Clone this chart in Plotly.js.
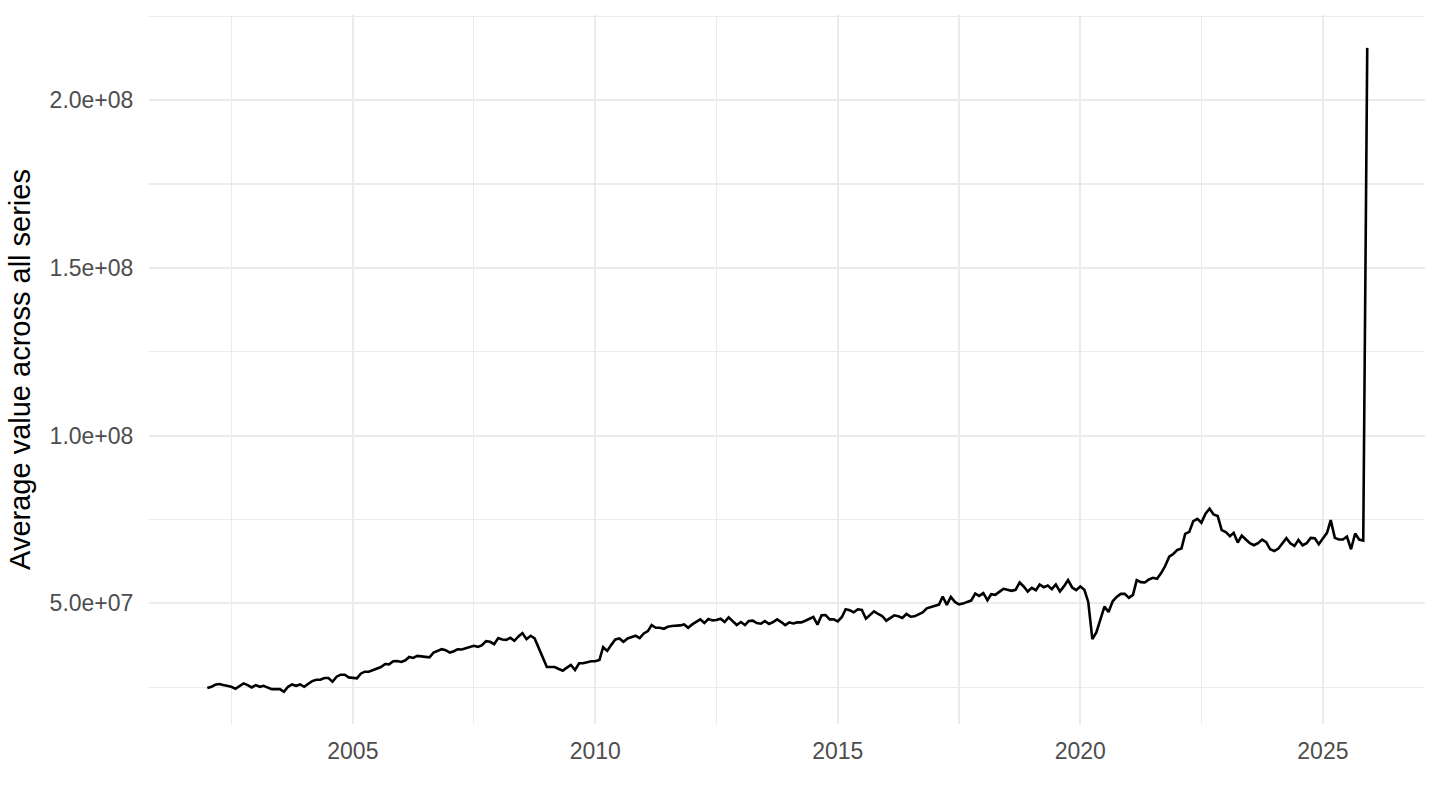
<!DOCTYPE html>
<html>
<head>
<meta charset="utf-8">
<script src="https://cdn.plot.ly/plotly-3.0.1.min.js"></script>
<style>
  html, body { margin: 0; padding: 0; background: #ffffff; }
  #chart { width: 1440px; height: 810px; }
</style>
</head>
<body>
<div id="chart"></div>
<script>
// Monthly series, starting January 2002 (values in millions)
const startYear = 2002;
const valuesMillions = [
  // 2002
  24.7, 25.1, 25.7, 25.9, 25.6, 25.4, 25.1, 24.5, 25.4, 26.1, 25.6, 24.9,
  // 2003
  25.6, 25.1, 25.4, 24.8, 24.4, 24.4, 24.4, 23.6, 25.1, 25.8, 25.4, 25.8,
  // 2004
  25.1, 26.0, 26.8, 27.2, 27.2, 27.7, 27.7, 26.6, 28.1, 28.7, 28.7, 27.9,
  // 2005
  27.7, 27.6, 29.0, 29.6, 29.6, 30.1, 30.6, 31.0, 31.9, 31.8, 32.7, 32.8,
  // 2006
  32.5, 33.0, 34.0, 33.7, 34.3, 34.2, 33.9, 33.9, 35.3, 35.9, 36.3, 36.0,
  // 2007
  35.3, 35.7, 36.3, 36.2, 36.5, 37.0, 37.3, 37.0, 37.5, 38.7, 38.5, 37.8,
  // 2008
  39.6, 39.2, 39.1, 39.7, 38.8, 40.1, 41.1, 39.3, 40.3, 39.5, 36.8, 34.1,
  // 2009
  31.0, 31.0, 31.0, 30.4, 29.9, 30.8, 31.6, 30.1, 32.1, 32.1, 32.4, 32.7,
  // 2010
  32.7, 33.1, 36.9, 35.8, 37.6, 39.2, 39.5, 38.5, 39.5, 40.0, 40.3, 39.6,
  // 2011
  41.0, 41.7, 43.5, 42.7, 42.7, 42.4, 43.0, 43.2, 43.2, 43.4, 43.7, 42.7,
  // 2012
  43.7, 44.6, 45.2, 44.1, 45.3, 44.9, 45.0, 45.4, 44.4, 45.8, 44.7, 43.5,
  // 2013
  44.4, 43.5, 44.7, 44.8, 44.1, 43.9, 44.7, 43.8, 44.4, 45.2, 44.4, 43.5,
  // 2014
  44.3, 44.0, 44.3, 44.3, 44.8, 45.4, 45.9, 43.6, 46.4, 46.5, 45.2, 45.2,
  // 2015
  44.6, 45.9, 48.2, 47.9, 47.3, 48.2, 48.0, 45.4, 46.6, 47.6, 46.8, 46.2,
  // 2016
  44.8, 45.6, 46.4, 46.1, 45.6, 46.8, 46.0, 46.1, 46.8, 47.3, 48.5, 48.8,
  // 2017
  49.2, 49.6, 52.0, 49.5, 51.9, 50.4, 49.7, 49.9, 50.4, 50.8, 52.9, 52.2,
  // 2018
  53.0, 50.9, 52.7, 52.5, 53.4, 54.3, 54.0, 53.7, 54.0, 56.2, 55.0, 53.5,
  // 2019
  54.6, 53.9, 55.6, 54.8, 55.3, 54.2, 55.6, 53.5, 55.1, 56.9, 54.7, 53.9,
  // 2020
  55.0, 54.0, 50.4, 39.3, 41.3, 45.2, 49.0, 47.4, 50.6, 51.9, 52.8, 52.8,
  // 2021
  51.6, 52.5, 56.9, 56.3, 56.2, 57.1, 57.6, 57.3, 59.0, 61.1, 63.9, 64.7,
  // 2022
  65.9, 66.3, 70.7, 71.3, 74.5, 75.2, 74.0, 76.7, 78.2, 76.5, 76.0, 71.8,
  // 2023
  71.2, 70.0, 71.0, 68.1, 70.2, 69.0, 67.9, 67.3, 67.9, 69.0, 68.2, 66.1,
  // 2024
  65.6, 66.3, 67.7, 69.4, 67.9, 67.1, 68.9, 67.3, 67.9, 69.5, 69.4, 67.6,
  // 2025
  69.3, 71.0, 74.8, 69.5, 69.0, 69.0, 69.9, 66.1, 70.8, 69.0, 68.7, 215.6
];

const xTickLabels = ['2005', '2010', '2015', '2020', '2025'];
const xMinorTicks = ['2002-07-02', '2007-07-02', '2012-07-02', '2017-07-02', '2022-07-02'];
const yTickValues = [5e7, 1e8, 1.5e8, 2e8];
const yTickLabels = ['5.0e+07', '1.0e+08', '1.5e+08', '2.0e+08'];
const yMinorTicks = [2.5e7, 7.5e7, 1.25e8, 1.75e8, 2.25e8];
const yTitle = 'Average value across all series';

// Build dates and values
const dates = valuesMillions.map((v, i) => {
  const y = startYear + Math.floor(i / 12);
  const m = (i % 12) + 1;
  return y + '-' + String(m).padStart(2, '0') + '-01';
});
const values = valuesMillions.map(v => v * 1e6);

const trace = {
  type: 'scatter',
  mode: 'lines',
  x: dates,
  y: values,
  line: { color: '#000000', width: 2.6 },
  hoverinfo: 'x+y',
  showlegend: false
};

const grid = '#ebebeb';
const layout = {
  width: 1440,
  height: 810,
  margin: { l: 149, r: 15, t: 15, b: 86, pad: 0 },
  paper_bgcolor: '#ffffff',
  plot_bgcolor: '#ffffff',
  font: { family: '"Liberation Sans", Arial, Helvetica, sans-serif', color: '#4d4d4d' },
  showlegend: false,
  xaxis: {
    type: 'date',
    range: ['2000-10-19', '2027-02-09'],
    tickmode: 'array',
    tickvals: xTickLabels.map(y => y + '-01-01'),
    ticktext: xTickLabels,
    tickfont: { size: 23, color: '#4d4d4d' },
    ticks: 'outside',
    ticklen: 6,
    tickcolor: 'rgba(0,0,0,0)',
    showgrid: true,
    gridcolor: grid,
    gridwidth: 2,
    zeroline: false,
    showline: false,
    minor: {
      tickmode: 'array',
      tickvals: xMinorTicks,
      showgrid: true,
      gridcolor: grid,
      gridwidth: 1.1,
      ticks: ''
    },
    automargin: false
  },
  yaxis: {
    range: [14.0e6, 225.4e6],
    tickmode: 'array',
    tickvals: yTickValues,
    ticktext: yTickLabels,
    tickfont: { size: 23, color: '#4d4d4d' },
    ticks: 'outside',
    ticklen: 10,
    tickcolor: 'rgba(0,0,0,0)',
    showgrid: true,
    gridcolor: grid,
    gridwidth: 2,
    zeroline: false,
    showline: false,
    minor: {
      tickmode: 'array',
      tickvals: yMinorTicks,
      showgrid: true,
      gridcolor: grid,
      gridwidth: 1.1,
      ticks: ''
    },
    title: {
      text: yTitle,
      font: { size: 29, color: '#000000' },
      standoff: 10
    },
    automargin: false
  }
};

Plotly.newPlot('chart', [trace], layout, { displayModeBar: false, staticPlot: true });
</script>
</body>
</html>
